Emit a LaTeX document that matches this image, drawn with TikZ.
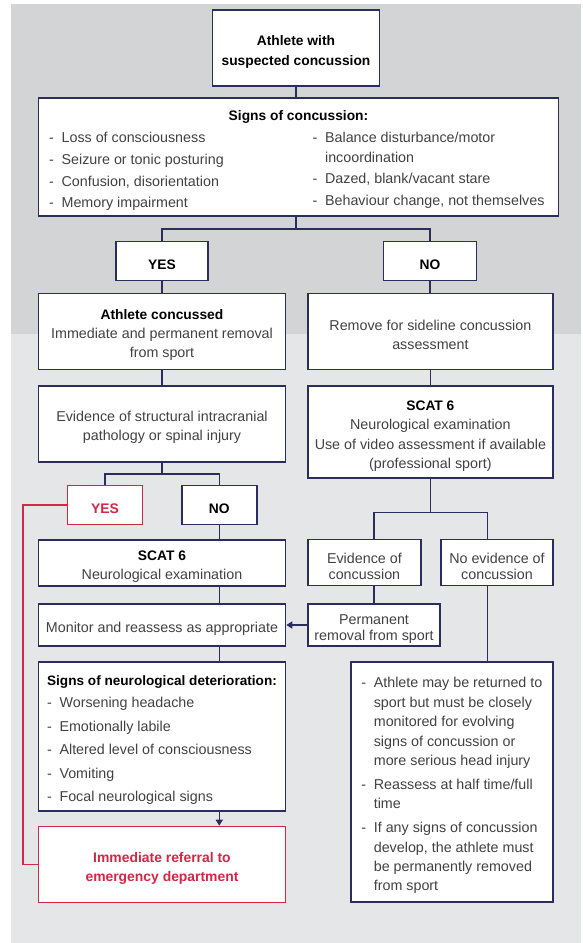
\documentclass[tikz,border=0pt]{standalone}
\usepackage{fontspec}
\setmainfont{Liberation Sans}
\usetikzlibrary{arrows.meta}
\definecolor{navy}{RGB}{43,45,92}
\definecolor{alert}{RGB}{214,38,70}
\definecolor{bgtop}{RGB}{211,212,214}
\definecolor{bgbot}{RGB}{229,230,232}
\definecolor{txt}{RGB}{66,66,66}
\newcommand{\itm}{\makebox[12.4pt][l]{-}}
\newcommand{\cnt}{\hspace*{12.4pt}}
\newcommand{\dn}{\rule{0pt}{17.5pt}}
\newcommand{\boxtitle}[1]{{\color{black}\bfseries\fontsize{13.8}{19.4}\selectfont #1}}
\newcommand{\alerttitle}[1]{{\color{alert}\bfseries\fontsize{13.9}{19.4}\selectfont #1}}
\tikzset{
  box/.style={draw=navy, fill=white, line width=1.6pt, inner sep=0pt, align=center,
    text=txt, font=\fontsize{14.3}{19.4}\selectfont},
  redbox/.style={box, draw=alert},
  tight/.style={font=\fontsize{14.3}{16.3}\selectfont},
  wh/.style 2 args={minimum width=#1, minimum height=#2},
  words/.style={inner sep=0pt, align=left, text=txt, font=\fontsize{14.3}{19.4}\selectfont},
  link/.style={draw=navy, line width=1.5pt},
  redlink/.style={draw=alert, line width=1.5pt},
  arrowend/.style={-{Triangle[length=6pt,width=7pt]}}
}

\begin{document}
\begin{tikzpicture}[x=1pt,y=-1pt]
\useasboundingbox (0,0) rectangle (583,943);
\fill[bgbot] (11,4) rectangle (581,943);
\fill[bgtop] (11,4) rectangle (581,334);

\coordinate (j1) at (296,229);
\coordinate (j2) at (162,474);
\coordinate (j3) at (430.4,512.3);
\coordinate (e1) at (374,512.3);
\coordinate (e2) at (487.7,512.3);
\coordinate (r1) at (23,505);
\coordinate (r2) at (23,864.5);

% top part
\node[box, wh={167}{76}] (start) at (296,48) {\dn\boxtitle{Athlete with}\\\boxtitle{suspected concussion}};
\node[box, wh={520}{118}] (signs) at (298.5,157) {};
\node[words, anchor=base] (signstitle) at (298.5,120.5) {\boxtitle{Signs of concussion:}};
\node[words, anchor=north west] (signsleft) at (49,130.5) {\rule{0pt}{12pt}\itm Loss of consciousness\\[2.3pt]
  \itm Seizure or tonic posturing\\[2.3pt]\itm Confusion, disorientation\\[2.3pt]\itm Memory impairment};
\node[words, anchor=north west] (signsright) at (312.5,130.5) {\rule{0pt}{12pt}\itm Balance disturbance/motor\\
  \cnt incoordination\\[2.3pt]\itm Dazed, blank/vacant stare\\[2.3pt]\itm Behaviour change, not themselves};
\node[box, wh={92}{39}] (yes) at (162,261) {\dn\boxtitle{YES}};
\node[box, wh={93}{39}] (no) at (430,261) {\dn\boxtitle{NO}};

% left branch
\node[box, wh={247}{76}] (concussed) at (162,331.3) {\dn\boxtitle{Athlete concussed}\\Immediate and permanent removal\\from sport};
\node[box, wh={247}{76}] (structural) at (162,424) {\dn Evidence of structural intracranial\\pathology or spinal injury};
\node[redbox, wh={75}{39}] (yesinjury) at (105,505) {\dn\alerttitle{YES}};
\node[box, wh={75}{39}] (noinjury) at (219.3,505) {\dn\boxtitle{NO}};
\node[box, wh={247}{46}] (scatleft) at (162,563) {\dn\boxtitle{SCAT 6}\\Neurological examination};
\node[box, wh={247}{42}, align=left] (monitor) at (162,625) {\dn Monitor and reassess as appropriate};
\node[box, wh={247}{149}, align=left] (deterioration) at (162,736.3)
  {\dn\boxtitle{\fontsize{13.6}{19.4}\selectfont Signs of neurological deterioration:}\\[3.4pt]
  \itm Worsening headache\\[4.1pt]\itm Emotionally labile\\[4.1pt]\itm Altered level of consciousness\\[4.1pt]
  \itm Vomiting\\[4.1pt]\itm Focal neurological signs};
\node[redbox, wh={247}{76}] (referral) at (162,864.5) {\dn\alerttitle{Immediate referral to}\\\alerttitle{emergency department}};

% right branch
\node[box, wh={245}{76}] (sideline) at (430.4,331.3) {\dn Remove for sideline concussion\\assessment};
\node[box, wh={245}{92}] (scatright) at (430.4,432.2) {\dn\boxtitle{SCAT 6}\\Neurological examination\\Use of video assessment if available\\(professional sport)};
\node[box, tight, wh={113}{46}] (evidconc) at (364.4,562.5) {\dn Evidence of\\concussion};
\node[box, tight, wh={112}{46}] (noevidconc) at (497,562.5) {\dn No evidence of\\concussion};
\node[box, tight, wh={132}{42}] (permanent) at (374,625) {\dn Permanent\\removal from sport};
\node[box, wh={202}{240}, align=left] (advice) at (451.9,782.2)
  {\dn\itm Athlete may be returned to\\\cnt sport but must be closely\\\cnt monitored for evolving\\
  \cnt signs of concussion or\\\cnt more serious head injury\\[4.5pt]\itm Reassess at half time/full\\\cnt time\\[4.5pt]
  \itm If any signs of concussion\\\cnt develop, the athlete must\\\cnt be permanently removed\\\cnt from sport};

% connectors
\draw[link] (start.south) -- (start.south |- signs.north);
\draw[link] (signs.south -| j1) -- (j1);
\draw[link] (yes.north) |- (j1) -| (no.north);
\draw[link] (yes.south) -- (concussed.north);
\draw[link] (no.south) -- (no.south |- sideline.north);
\draw[link] (concussed.south) -- (structural.north);
\draw[link] (sideline.south) -- (scatright.north);
\draw[link] (structural.south) -- (j2);
\draw[link] (yesinjury.north) |- (j2) -| (noinjury.north);
\draw[link] (noinjury.south) -- (noinjury.south |- scatleft.north);
\draw[link] (scatright.south) -- (j3);
\draw[link] (e1 |- evidconc.north) -- (e1) -- (e2) -- (e2 |- noevidconc.north);
\draw[link] (evidconc.south -| permanent) -- (permanent.north);
\draw[link] (noevidconc.south -| e2) -- (advice.north -| e2);
\draw[link, arrowend] (permanent.west) -- (monitor.east);
\draw[link] (scatleft.south -| noinjury) -- (monitor.north -| noinjury);
\draw[link] (monitor.south -| noinjury) -- (deterioration.north -| noinjury);
\draw[link, arrowend] (deterioration.south -| noinjury) -- (referral.north -| noinjury);
\draw[redlink] (yesinjury.west) -- (r1) -- (r2) -- (referral.west);
\end{tikzpicture}
\end{document}
